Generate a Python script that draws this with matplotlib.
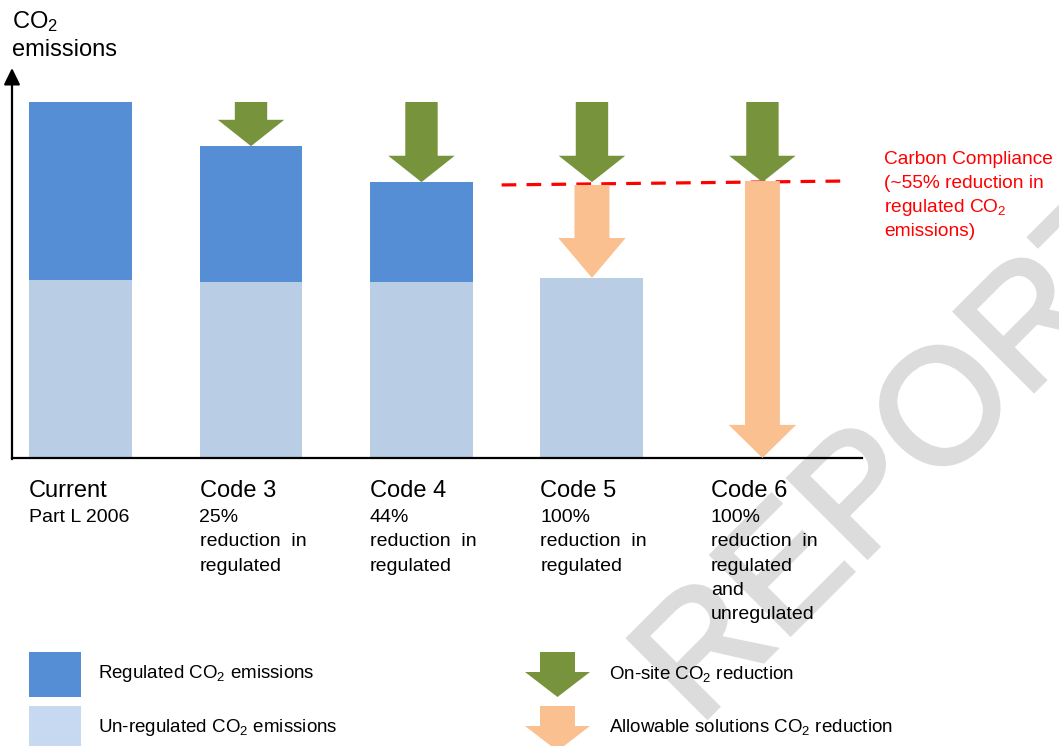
import matplotlib
matplotlib.use('Agg')
import matplotlib.pyplot as plt
from matplotlib.patches import FancyArrow, Rectangle, PathPatch
from matplotlib.textpath import TextPath
from matplotlib.font_manager import FontProperties
from matplotlib.transforms import Affine2D

plt.rcParams['font.family'] = ['Liberation Sans', 'DejaVu Sans']
plt.rcParams['mathtext.fontset'] = 'custom'
plt.rcParams['mathtext.rm'] = 'Liberation Sans'
plt.rcParams['mathtext.it'] = 'Liberation Sans:italic'

# data (arbitrary emission units, Current total = 100)
categories = ['Current', 'Code 3', 'Code 4', 'Code 5', 'Code 6']
sub_labels = ['Part L 2006',
              '25%\nreduction  in\nregulated',
              '44%\nreduction  in\nregulated',
              '100%\nreduction  in\nregulated',
              '100%\nreduction  in\nregulated\nand\nunregulated']
unregulated = [50.0, 49.4, 49.4, 50.6, 0.0]
regulated = [50.0, 38.2, 28.1, 0.0, 0.0]
onsite_end = [None, 87.6, 77.5, 77.5, 77.5]
allowable_start = [None, None, None, 76.7, 77.8]
allowable_end = [None, None, None, 50.6, 0.0]
compliance_x = [2.47, 4.48]
compliance_y = [76.7, 77.8]
compliance_note = ['Carbon Compliance', '(~55% reduction in', 'regulated CO$_2$', 'emissions)']

BLUE = '#558ED5'
LIGHT = '#B9CDE5'
GREEN = '#77933C'
ORANGE = '#FAC090'
WM = '#dcdcdc'

W, H = 1059, 746
fig = plt.figure(figsize=(W / 100, H / 100), dpi=100)

# background layer: watermark + legend, in pixel coordinates
over = fig.add_axes([0, 0, 1, 1], zorder=1)
over.set_xlim(0, W)
over.set_ylim(H, 0)
over.axis('off')
wm_path = TextPath((0, 0), 'REPORT', size=163, prop=FontProperties(family='Liberation Sans'))
wm_tr = Affine2D().rotate_deg(45).scale(1, -1).translate(698, 727) + over.transData
over.add_patch(PathPatch(wm_path, facecolor=WM, edgecolor=WM, lw=2.8,
                         joinstyle='miter', transform=wm_tr, zorder=0))

ax = fig.add_axes([12 / W, (H - 458) / H, 850 / W, 390 / H], zorder=2)
ax.patch.set_alpha(0)
x = list(range(len(categories)))
ax.bar(x, unregulated, width=0.604, color=LIGHT, lw=0, zorder=1)
ax.bar(x, regulated, width=0.604, bottom=unregulated, color=BLUE, lw=0, zorder=1)

top = unregulated[0] + regulated[0]
for i in x:
    if onsite_end[i] is not None:
        ax.add_patch(FancyArrow(i, top, 0, onsite_end[i] - top, width=0.19,
                                head_width=0.39, head_length=7.4,
                                length_includes_head=True, color=GREEN, lw=0, zorder=3))
    if allowable_start[i] is not None:
        hl = 11.2 if allowable_end[i] > 0 else 9.3
        ax.add_patch(FancyArrow(i, allowable_start[i], 0, allowable_end[i] - allowable_start[i],
                                width=0.205, head_width=0.395, head_length=hl,
                                length_includes_head=True, color=ORANGE, lw=0, zorder=3))

ax.plot(compliance_x, compliance_y, color='#FF0000', lw=2.3, ls=(0, (4.6, 3.2)), zorder=2)

ax.set_xlim(-0.402, 4.584)
ax.set_ylim(0, 109.55)
for s in ['top', 'right', 'left']:
    ax.spines[s].set_visible(False)
ax.spines['bottom'].set_linewidth(1.6)
ax.set_xticks([])
ax.set_yticks([])
ax.annotate('', xy=(0, 1), xytext=(0, -0.003), xycoords='axes fraction',
            arrowprops=dict(arrowstyle='-|>,head_length=10,head_width=4.9',
                            mutation_scale=1, lw=1.6, color='black',
                            shrinkA=0, shrinkB=0))

# category labels
for i, (c, s) in enumerate(zip(categories, sub_labels)):
    over.text(29 + 170.5 * i, 497, c, fontsize=17, va='baseline', ha='left', zorder=5)
    over.text(29 + 170.5 * i, 509, s, fontsize=14, va='top', ha='left',
              linespacing=1.56, zorder=5)

over.text(12, 28, 'CO$_2$', fontsize=17, va='baseline', ha='left', zorder=5)
over.text(12, 56, 'emissions', fontsize=17, va='baseline', ha='left', zorder=5)

for k, line in enumerate(compliance_note):
    over.text(884, 164 + 24 * k, line, color='#FF0000', fontsize=13.8,
              va='baseline', ha='left', zorder=5)

# legend
over.add_patch(Rectangle((29, 652), 52, 45, color=BLUE, lw=0, zorder=4))
over.add_patch(Rectangle((29, 706), 52, 45, color='#C6D9F1', lw=0, zorder=4))
over.add_patch(FancyArrow(557.5, 652, 0, 45, width=35, head_width=65, head_length=25,
                          length_includes_head=True, color=GREEN, lw=0, zorder=4))
over.add_patch(FancyArrow(557.5, 706, 0, 45, width=35, head_width=65, head_length=25,
                          length_includes_head=True, color=ORANGE, lw=0, zorder=4))
over.text(98, 674, 'Regulated CO$_2$ emissions', fontsize=13.5, va='center', zorder=5)
over.text(98, 727, 'Un-regulated CO$_2$ emissions', fontsize=13.5, va='center', zorder=5)
over.text(609, 674, 'On-site CO$_2$ reduction', fontsize=13.5, va='center', zorder=5)
over.text(609, 727, 'Allowable solutions CO$_2$ reduction', fontsize=13.5, va='center', zorder=5)

fig.savefig('out.png', dpi=100)
